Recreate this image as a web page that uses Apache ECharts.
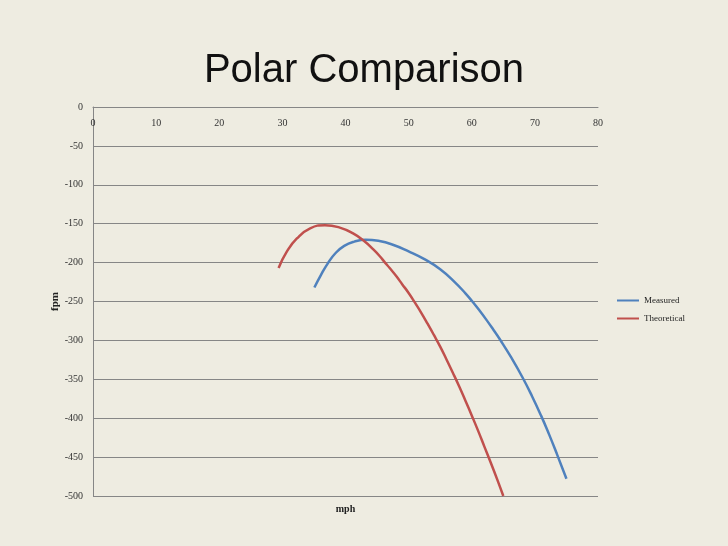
<!DOCTYPE html>
<html><head><meta charset="utf-8">
<script src="https://cdn.jsdelivr.net/npm/echarts@6/dist/echarts.min.js"></script>
<style>html,body{margin:0;padding:0;background:#eeece1;}#c{width:728px;height:546px;}</style>
</head><body><div id="c"></div>
<script>
var titleText = "Polar Comparison";
var xName = "mph";
var yName = "fpm";
var seriesNames = ["Measured", "Theoretical"];
var measured = [[35.07,-232],[36.1,-216],[37.2,-201],[38.4,-188],[39.8,-178.5],[41.4,-173],[43.2,-170.5],[45.2,-172],[47.5,-177],[50,-185.5],[52.5,-195.5],[55,-208.5],[57.3,-225],[59,-239.5],[60.1,-250],[61.2,-261.3],[62.3,-273.3],[63.4,-286],[64.5,-299.2],[66.3,-322.6],[68.07,-348],[69.55,-371.7],[71,-397],[72.25,-420.8],[73.45,-445.2],[75,-477.8]];
var theoretical = [[29.4,-207],[30.7,-186],[32.3,-169],[34.4,-156],[36.75,-152],[39.1,-155],[41.2,-162.5],[43,-172.5],[44.4,-183],[45.4,-191.5],[46.26,-200],[47,-207],[48,-217],[49,-228],[50,-239],[51,-251.5],[52,-264.5],[53,-278.5],[54,-293],[55,-308],[56,-324.5],[57,-341.5],[58,-359],[59,-377.5],[60,-396.5],[61,-416],[62,-436.5],[63,-457],[64,-478],[65,-500]];
var xMin = 0, xMax = 80, xStep = 10;
var yMin = -500, yMax = 0, yStep = 50;

var serif = "'Liberation Serif', 'DejaVu Serif', serif";
var chart = echarts.init(document.getElementById('c'));
chart.setOption({
  backgroundColor: '#eeece1',
  animation: false,
  title: { text: titleText, left: 'center', top: 46, textStyle: { fontFamily: "'Liberation Sans', Arial, sans-serif", fontSize: 40, fontWeight: 'normal', color: '#111' } },
  grid: { left: 93, right: 130, top: 107, bottom: 50 },
  legend: {
    orient: 'vertical', left: 612, top: 291, itemGap: 9, itemTextGap: 2,
    icon: 'rect', itemWidth: 22, itemHeight: 2,
    textStyle: { fontFamily: serif, fontSize: 9, color: '#222' },
    data: seriesNames
  },
  xAxis: [{
    type: 'value', position: 'top', min: xMin, max: xMax, interval: xStep,
    axisLine: { show: true, onZero: false, lineStyle: { color: '#868686' } },
    axisTick: { show: false },
    splitLine: { show: false },
    axisLabel: { inside: true, margin: 11, fontFamily: serif, fontSize: 10, color: '#333' }
  }, {
    type: 'value', position: 'bottom', min: xMin, max: xMax,
    name: xName, nameLocation: 'middle', nameGap: 8,
    nameTextStyle: { fontFamily: serif, fontSize: 10, fontWeight: 'bold', color: '#222' },
    axisLine: { show: false }, axisTick: { show: false }, axisLabel: { show: false }, splitLine: { show: false }
  }],
  yAxis: {
    type: 'value', min: yMin, max: yMax, interval: yStep,
    name: yName, nameLocation: 'middle', nameGap: 32, nameRotate: 90, nameMoveOverlap: false,
    nameTextStyle: { fontFamily: serif, fontSize: 11, fontWeight: 'bold', color: '#222' },
    axisLine: { show: true, onZero: false, lineStyle: { color: '#868686' } },
    axisTick: { show: false },
    splitLine: { show: true, lineStyle: { color: '#868686', width: 1 } },
    axisLabel: { margin: 10, fontFamily: serif, fontSize: 10, color: '#333' }
  },
  series: [
    { name: seriesNames[0], type: 'line', data: measured, smooth: 0.5, showSymbol: false, xAxisIndex: 0,
      lineStyle: { color: '#4f81bd', width: 2.5 }, itemStyle: { color: '#4f81bd' } },
    { name: seriesNames[1], type: 'line', data: theoretical, smooth: 0.5, showSymbol: false, xAxisIndex: 0,
      lineStyle: { color: '#c0504d', width: 2.5 }, itemStyle: { color: '#c0504d' } }
  ]
});
</script></body></html>
